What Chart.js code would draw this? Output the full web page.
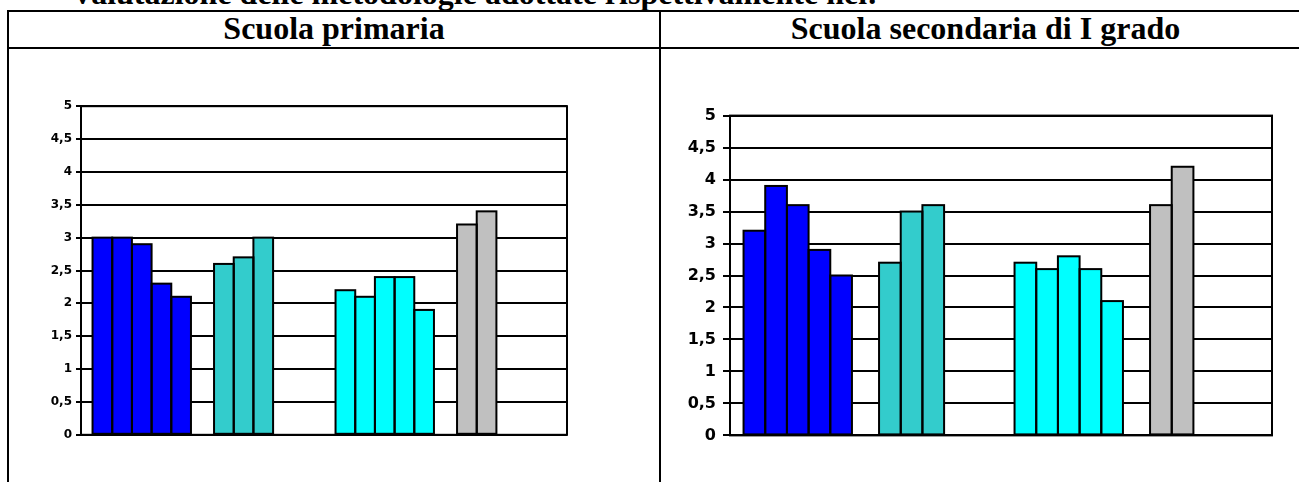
<!DOCTYPE html>
<html lang="it">
<head>
<meta charset="utf-8">
<title>Valutazione delle metodologie adottate</title>
<script src="https://cdn.jsdelivr.net/npm/chart.js@4.4.1/dist/chart.umd.min.js"></script>
<style>
  html, body { margin: 0; padding: 0; background: #fff; }
  body { width: 1299px; height: 482px; position: relative; overflow: hidden; }
  .rule { position: absolute; background: #000; }
  .txt {
    position: absolute; white-space: nowrap;
    font-family: "Liberation Serif", "Times New Roman", serif;
    font-weight: bold; font-size: 32px; line-height: 36px; color: #000;
  }
  canvas { position: absolute; }
</style>
</head>
<body>
<script>
// Gruppi di metodologie (asse delle categorie, etichette non mostrate)
const categories = ['Gruppo 1', 'Gruppo 2', 'Gruppo 3', 'Gruppo 4'];

// Scuola primaria: valori di ciascun gruppo
const primariaGruppo1 = [3.0, 3.0, 2.9, 2.3, 2.1];
const primariaGruppo2 = [2.6, 2.7, 3.0];
const primariaGruppo3 = [2.2, 2.1, 2.4, 2.4, 1.9];
const primariaGruppo4 = [3.2, 3.4];

// Scuola secondaria di I grado: valori di ciascun gruppo
const secondariaGruppo1 = [3.2, 3.9, 3.6, 2.9, 2.5];
const secondariaGruppo2 = [2.7, 3.5, 3.6];
const secondariaGruppo3 = [2.7, 2.6, 2.8, 2.6, 2.1];
const secondariaGruppo4 = [3.6, 4.2];

// Colori dei gruppi
const groupColors = ['#0000FF', '#33CCCC', '#00FFFF', '#C0C0C0'];

// Etichette dell'asse dei valori (virgola decimale)
const yTickLabels = ['0', '0,5', '1', '1,5', '2', '2,5', '3', '3,5', '4', '4,5', '5'];

const SERIES_PER_GROUP = 5;
</script>

<div class="txt" style="left:71px; top:-25px;">Valutazione delle metodologie adottate rispettivamente nel:</div>

<!-- tabella -->
<div class="rule" style="left:7px; top:10px; width:1310px; height:2px;"></div>
<div class="rule" style="left:7px; top:47px; width:1310px; height:2px;"></div>
<div class="rule" style="left:7px; top:10px; width:2px; height:480px;"></div>
<div class="rule" style="left:659px; top:10px; width:2px; height:480px;"></div>

<div class="txt" style="left:9px; width:650px; top:10px; text-align:center;">Scuola primaria</div>
<div class="txt" style="left:661px; width:649px; top:10px; text-align:center;">Scuola secondaria di I grado</div>

<canvas id="cPrimaria" width="540" height="351" style="left:40px; top:95px;"></canvas>
<canvas id="cSecondaria" width="605" height="353" style="left:680px; top:99px;"></canvas>

<script>
// contorno nero delle barre (centrato sul bordo) e cornice dell'area del grafico
const outlines = {
  id: 'outlines',
  afterDatasetsDraw(chart) {
    const ctx = chart.ctx, a = chart.chartArea;
    ctx.save();
    ctx.strokeStyle = '#000';
    ctx.lineWidth = 2;
    chart.data.datasets.forEach((ds, i) => {
      chart.getDatasetMeta(i).data.forEach((bar, j) => {
        if (ds.data[j] == null) return;
        const p = bar.getProps(['x', 'y', 'base', 'width'], true);
        ctx.strokeRect(p.x - p.width / 2, p.y, p.width, p.base - p.y);
      });
    });
    ctx.strokeRect(a.left, a.top, a.right - a.left, a.bottom - a.top);
    ctx.restore();
  }
};

function buildDatasets(groups) {
  const sets = [];
  for (let i = 0; i < SERIES_PER_GROUP; i++) {
    sets.push({
      label: 'Serie ' + (i + 1),
      data: groups.map(g => (i < g.length ? g[i] : null)),
      backgroundColor: groupColors,
      borderWidth: 0,
      barPercentage: 1.0
    });
  }
  return sets;
}

function makeChart(id, groups, cfg) {
  new Chart(document.getElementById(id), {
    type: 'bar',
    data: { labels: categories, datasets: buildDatasets(groups) },
    options: {
      responsive: false,
      animation: false,
      devicePixelRatio: 1,
      layout: { padding: { left: 0, right: 13, top: 10, bottom: 10 } },
      datasets: { bar: { categoryPercentage: cfg.catPct } },
      plugins: { legend: { display: false }, tooltip: { enabled: false } },
      scales: {
        x: { display: false },
        y: {
          min: 0, max: 5,
          afterFit(scale) { scale.width = cfg.axisWidth; },
          ticks: {
            stepSize: 0.5,
            color: '#000',
            padding: cfg.tickPad,
            font: { family: 'DejaVu Sans', weight: 'bold', size: cfg.fontSize },
            callback: (v) => yTickLabels[Math.round(v * 2)]
          },
          grid: { color: '#000', lineWidth: 2, tickLength: cfg.tickLen, tickColor: '#000' },
          border: { color: '#000', width: 2 }
        }
      }
    },
    plugins: [outlines]
  });
}

makeChart('cPrimaria',
  [primariaGruppo1, primariaGruppo2, primariaGruppo3, primariaGruppo4],
  { catPct: 0.81, axisWidth: 41, tickPad: 4, tickLen: 5, fontSize: 12 });

makeChart('cSecondaria',
  [secondariaGruppo1, secondariaGruppo2, secondariaGruppo3, secondariaGruppo4],
  { catPct: 0.8, axisWidth: 50, tickPad: 7, tickLen: 7, fontSize: 16 });
</script>
</body>
</html>
